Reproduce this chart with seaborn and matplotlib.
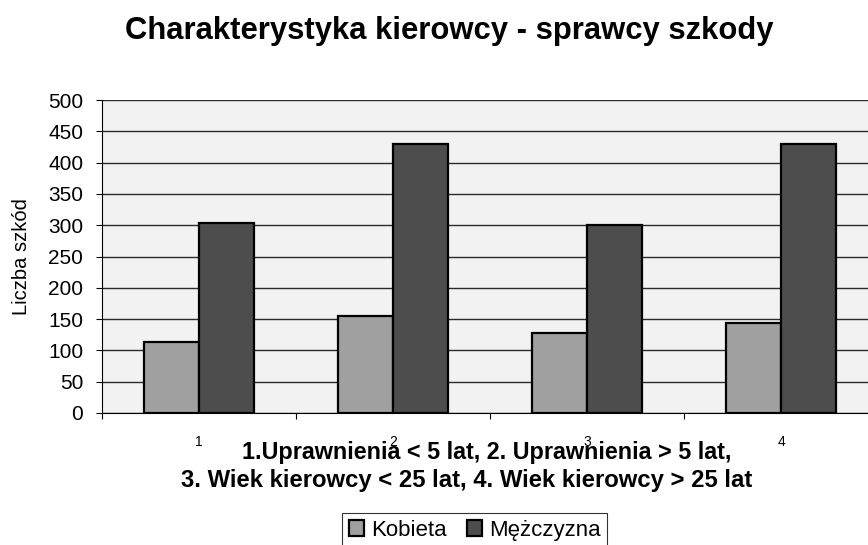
import pandas as pd
import matplotlib.pyplot as plt
import seaborn as sns
from matplotlib.patches import Patch

categories = ["1", "2", "3", "4"]
kobieta = [114, 155, 127, 143]
mezczyzna = [303, 429, 301, 430]
series = ["Kobieta", "Mężczyzna"]
colors = ["#a0a0a0", "#4d4d4d"]

df = pd.DataFrame({
    "kategoria": categories * 2,
    "płeć": [series[0]] * 4 + [series[1]] * 4,
    "liczba": kobieta + mezczyzna,
})

sns.set_style("white")
plt.rcParams["font.family"] = ["Liberation Sans", "DejaVu Sans"]
plt.rcParams["text.color"] = "black"
plt.rcParams["xtick.color"] = "black"
plt.rcParams["ytick.color"] = "black"
plt.rcParams["axes.labelcolor"] = "black"

fig = plt.figure(figsize=(8.68, 5.45), dpi=100)
ax = fig.add_axes([102 / 868, 1 - 413 / 545, 776 / 868, 313 / 545])
ax.set_facecolor("#f2f2f2")

sns.barplot(data=df, x="kategoria", y="liczba", hue="płeć", palette=colors,
            width=0.572, edgecolor="black", linewidth=1.6, ax=ax, legend=False,
            zorder=3)

ax.set_ylim(0, 500)
ax.set_xlim(-0.5, 3.5)
ax.set_yticks(range(0, 501, 50))
ax.yaxis.grid(True, color="#2a2a2a", linewidth=1.0)
ax.set_axisbelow(True)
for s in ["top", "right"]:
    ax.spines[s].set_visible(False)
ax.spines["left"].set_color("black")
ax.spines["bottom"].set_color("black")
ax.tick_params(axis="y", left=True, length=4.5, width=0.8, labelsize=15, pad=9)
ax.tick_params(axis="x", which="major", bottom=False, length=0, labelsize=10, pad=16)
ax.set_xticks([-0.5, 0.5, 1.5, 2.5], minor=True)
ax.tick_params(axis="x", which="minor", bottom=True, length=4, width=0.8)
ax.set_xlabel("")
ax.set_ylabel("Liczba szkód", fontsize=14.5, labelpad=12)

fig.text(449 / 868, 1 - 31 / 545, "Charakterystyka kierowcy - sprawcy szkody",
         ha="center", va="center", fontsize=22.3, fontweight="bold")
fig.text(487 / 868, 1 - 453 / 545, "1.Uprawnienia < 5 lat, 2. Uprawnienia > 5 lat,",
         ha="center", va="center", fontsize=16.8, fontweight="bold")
fig.text(467 / 868, 1 - 480 / 545, "3. Wiek kierowcy < 25 lat, 4. Wiek kierowcy > 25 lat",
         ha="center", va="center", fontsize=17.2, fontweight="bold")

handles = [Patch(facecolor=c, edgecolor="black", linewidth=1.6) for c in colors]
leg = fig.legend(handles, series, loc="upper left", bbox_to_anchor=(342 / 868, 1 - 513 / 545),
                 ncol=2, frameon=True, fancybox=False, fontsize=16,
                 handlelength=0.7, handleheight=0.7, handletextpad=0.3,
                 columnspacing=0.9, borderpad=0.3, borderaxespad=0)
leg.get_frame().set_edgecolor("black")
leg.get_frame().set_linewidth(0.8)

plt.savefig("out.png", dpi=100)
